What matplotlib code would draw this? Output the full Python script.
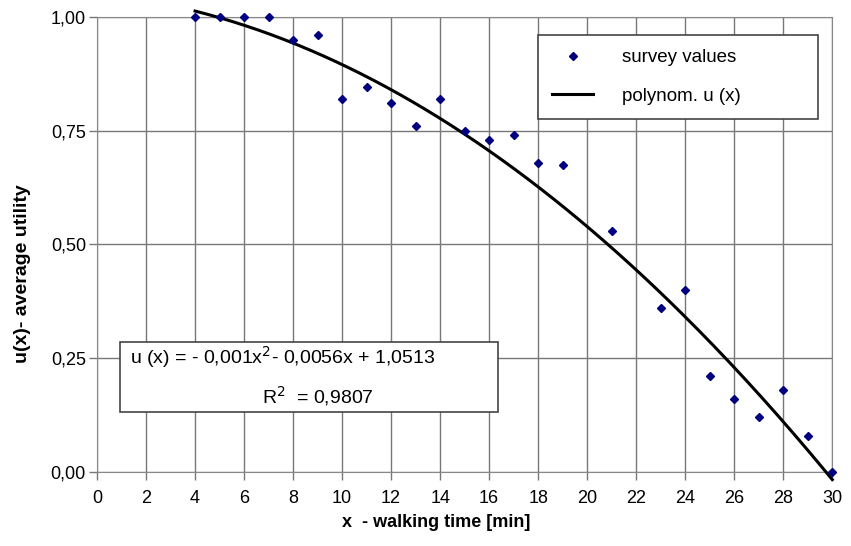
import matplotlib.pyplot as plt
import numpy as np
from matplotlib.patches import Rectangle

plt.rcParams['font.family'] = ['Liberation Sans', 'DejaVu Sans']

# survey data: walking time [min] vs average utility
walk_time = [4, 5, 6, 7, 8, 9, 10, 11, 12, 13, 14, 15, 16, 17, 18, 19,
             21, 23, 24, 25, 26, 27, 28, 29, 30]
utility = [1.00, 1.00, 1.00, 1.00, 0.95, 0.96, 0.82, 0.845, 0.81, 0.76, 0.82, 0.75,
           0.73, 0.74, 0.68, 0.675, 0.53, 0.36, 0.40, 0.21, 0.16, 0.12, 0.18, 0.08, 0.00]

# trendline coefficients as printed on the chart
poly_coef = [-0.001, -0.0056, 1.0513]

x_ticks = np.arange(0, 31, 2)
y_ticks = [0, 0.25, 0.5, 0.75, 1.0]
y_tick_labels = ["0,00", "0,25", "0,50", "0,75", "1,00"]

fig = plt.figure(figsize=(8.51, 5.46), dpi=100)
ax = fig.add_axes([0.114, 0.1355, 0.864, 0.8335])

xs = np.linspace(4, 30, 200)
ax.plot(xs, np.polyval(poly_coef, xs), color='black', lw=2.2, zorder=3,
        label='polynom. u (x)', clip_on=False)
ax.plot(walk_time, utility, 'D', color='#000080', ms=4, zorder=4,
        label='survey values', linestyle='none', clip_on=False)

ax.set_xlim(0, 30)
ax.set_ylim(0, 1.0)
ax.set_xticks(x_ticks)
ax.set_yticks(y_ticks)
ax.set_yticklabels(y_tick_labels)
ax.tick_params(labelsize=13, color='#777777', length=6, width=1, pad=2)
ax.tick_params(axis='x', pad=7)
ax.grid(True, color='#777777', lw=1)
ax.set_axisbelow(True)
for s in ax.spines.values():
    s.set_color('#888888')

ax.set_xlabel("x  - walking time [min]", fontsize=13, fontweight='bold')
ax.xaxis.set_label_coords(0.461, -0.093)
ax.set_ylabel("u(x)- average utility", fontsize=14, fontweight='bold')
ax.yaxis.set_label_coords(-0.09, 0.437)

handles, labels = ax.get_legend_handles_labels()
leg = ax.legend(handles[::-1], labels[::-1], loc='upper left',
                bbox_to_anchor=(0.6, 0.789, 0.381, 0.171), mode='expand',
                fontsize=13.5, fancybox=False, framealpha=1, edgecolor='#444444',
                borderpad=0.75, labelspacing=1.15, handlelength=2.2,
                handletextpad=1.5, borderaxespad=0)
leg.get_frame().set_linewidth(1.2)

# equation box
ax.add_patch(Rectangle((0.031, 0.132), 0.515, 0.154, transform=ax.transAxes,
                       facecolor='white', edgecolor='#444444', lw=1.2, zorder=5))
ax.text(0.045, 0.252, "u (x) = - 0,001x$^2$- 0,0056x + 1,0513", transform=ax.transAxes,
        fontsize=14, va='center', zorder=6)
ax.text(0.224, 0.166, "R$^2$  = 0,9807", transform=ax.transAxes,
        fontsize=14, va='center', zorder=6)

fig.savefig('out.png', dpi=100)
